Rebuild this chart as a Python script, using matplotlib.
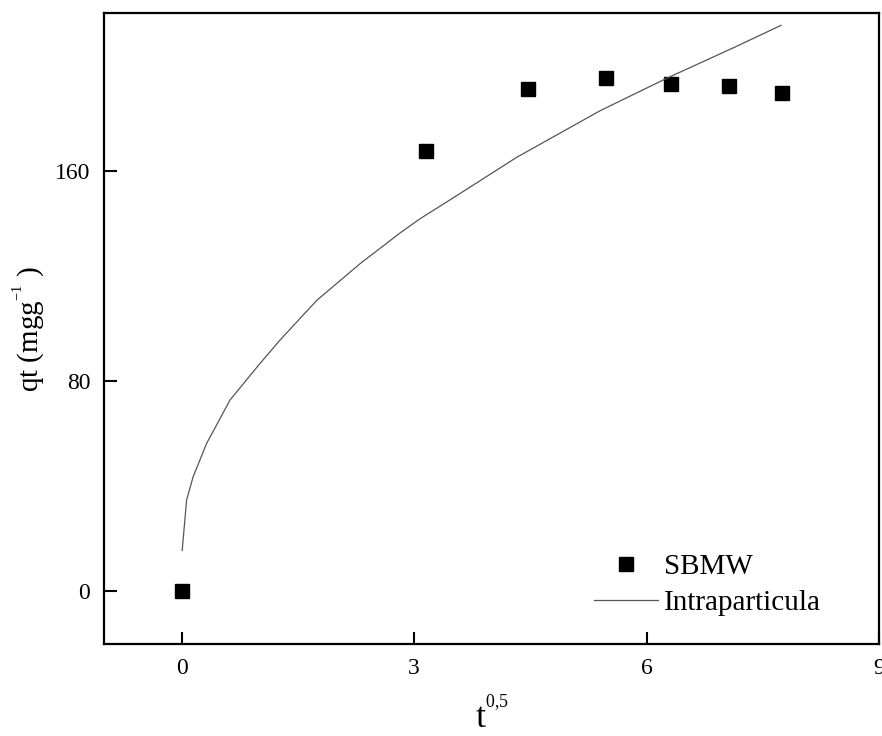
import matplotlib
matplotlib.use("Agg")
import matplotlib.pyplot as plt

plt.rcParams["font.family"] = ["Liberation Serif", "DejaVu Serif"]
plt.rcParams["mathtext.default"] = "regular"

# measured uptake (t^0.5 vs qt)
t_sqrt = [0.0, 3.16, 4.47, 5.48, 6.32, 7.07, 7.75]
qt = [0.0, 167.7, 191.3, 195.5, 192.9, 192.4, 189.8]

# intraparticle diffusion model curve
fit_x = [0.008, 0.065, 0.15, 0.323, 0.497, 0.624, 1.011, 1.269, 1.743,
         2.303, 2.82, 3.077, 3.465, 4.326, 5.40, 6.264, 7.124, 7.736]
fit_y = [15.6, 34.8, 43.7, 56.3, 65.8, 72.8, 86.7, 95.6, 110.7,
         124.7, 136.4, 141.8, 149.0, 165.2, 182.9, 195.3, 206.9, 215.4]

fig = plt.figure(figsize=(8.82, 7.36), dpi=100)
ax = fig.add_axes([0.118, 0.125, 0.8786, 0.857])

ax.plot(t_sqrt, qt, linestyle="none", marker="s", markersize=9.5,
        color="black", label="SBMW")
ax.plot(fit_x, fit_y, color="#555555", linewidth=0.9, label="Intraparticula")

ax.set_xlim(-1, 9)
ax.set_ylim(-20, 220)
ax.set_xticks([0, 3, 6, 9])
ax.set_yticks([0, 80, 160])
ax.tick_params(direction="in", length=9, width=1.5, labelsize=17, pad=10)
for s in ax.spines.values():
    s.set_linewidth(1.6)

ax.set_xlabel("t$^{{}^{0{,}5}}$", fontsize=26, labelpad=13)
ax.set_ylabel("qt (mgg$^{{}^{-1}}$ )", fontsize=21, labelpad=5)

ax.legend(loc="upper left", bbox_to_anchor=(0.632, 0.143), frameon=False,
          fontsize=21, handlelength=2.2, handletextpad=0.2, labelspacing=0.33,
          borderpad=0, borderaxespad=0)

fig.savefig("out.png", dpi=100)
